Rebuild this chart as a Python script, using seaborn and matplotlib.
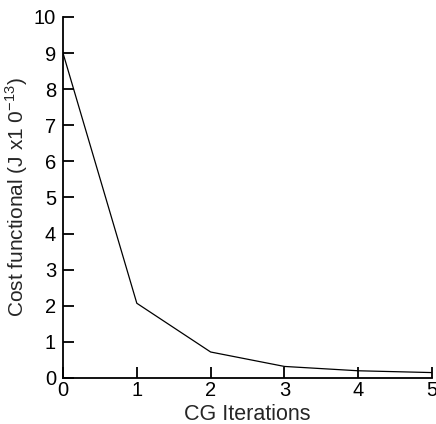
import matplotlib
matplotlib.use("Agg")
import matplotlib.pyplot as plt
import seaborn as sns
import pandas as pd

iterations = [0, 1, 2, 3, 4, 5]
cost = [9.0, 2.07, 0.72, 0.32, 0.20, 0.15]
x_ticks = [0, 1, 2, 3, 4, 5]
y_ticks = [0, 1, 2, 3, 4, 5, 6, 7, 8, 9, 10]

sns.set_theme(style="ticks")
plt.rcParams['font.family'] = ['Liberation Sans', 'DejaVu Sans']
plt.rcParams['mathtext.fontset'] = 'custom'
plt.rcParams['mathtext.rm'] = 'Liberation Sans'

df = pd.DataFrame({"it": iterations, "cost": cost})

fig = plt.figure(figsize=(4.36, 4.24), dpi=100)
ax = fig.add_axes([0.1445, 0.1085, 0.8465, 0.8515])
sns.lineplot(data=df, x="it", y="cost", ax=ax, color="black", linewidth=0.9)

ax.set_xlim(0, 5)
ax.set_ylim(0, 10)
ax.set_xticks(x_ticks)
ax.set_yticks(y_ticks)
ax.tick_params(direction="in", length=8, width=1.3, labelsize=14.5, colors="black")
ax.tick_params(axis="y", pad=5)
ax.tick_params(axis="x", pad=2)
for s in ["top", "right"]:
    ax.spines[s].set_visible(False)
for s in ["left", "bottom"]:
    ax.spines[s].set_linewidth(1.3)
    ax.spines[s].set_color("black")
ax.set_xlabel("CG Iterations", fontsize=15.5, labelpad=3)
ax.set_ylabel("Cost functional (J x1 0$^{\\mathregular{-13}}$)", fontsize=15, labelpad=3)
fig.savefig("out.png", dpi=100)
